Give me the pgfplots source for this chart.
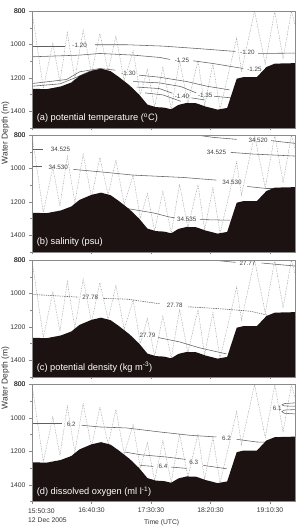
\documentclass[border=0pt]{standalone}
\usepackage{fontspec}
\setmainfont{Liberation Sans}
\usepackage{pgfplots}
\usepackage{pgfplotstable}
\pgfplotsset{compat=1.18}
\definecolor{bathyc}{HTML}{1C1212}
\definecolor{contc}{HTML}{606060}
\definecolor{zigc}{HTML}{999999}
\definecolor{framec}{HTML}{8A8A8A}

\pgfplotstableread{
x y
0 1510
0 1265
12 1268
24 1252
33 1228
40 1188
50 1158
58 1145
66 1160
73 1195
82 1245
90 1300
97 1360
104 1375
111 1378
117 1388
123 1362
130 1350
138 1352
146 1372
156 1390
164 1380
172 1205
178 1195
189 1195
197 1135
204 1115
221 1112
221 1510
}\bathytab

\pgfplotstableread{
x y
0 800
9.5 1262
17.5 994
23.5 1225
29.7 929
36 1205
43 915
50 1172
57 935
64 1158
70.5 950
77.5 1215
85 1040
91 1300
97 1150
103 1375
110 1137
117 1388
124 1096
131 1352
139.5 1096
145 1368
152 1116
158 1390
172 962
176 1160
187 800
196 1116
204 800
211 1085
218 800
221 880
}\zigtab

\tikzset{
 zigline/.style={zigc, line width=0.45bp, dash pattern=on 0.7bp off 0.9bp},
 cline/.style={contc, line width=0.55bp},
 lab/.style={font=\fontsize{6.3}{7}\selectfont, text=black!75, inner sep=0.5bp},
 plab/.style={font=\fontsize{9.3}{10}\selectfont, text=white, anchor=west, inner sep=0pt},
 topl/.style={font=\fontsize{6.8}{7}\selectfont, text=black!80, anchor=east, xshift=-3bp},
}
\pgfplotsset{
 panel/.style={
  width=263bp, height=117bp, scale only axis,
  anchor=north west,
  xmin=0, xmax=221, ymin=800, ymax=1500, y dir=reverse,
  xtick={0,50,100,150,200}, ytick={800,1000,1200,1400},
  minor ytick={900,1100,1300,1500},
  xticklabels={},
  tick align=outside, xtick pos=bottom, ytick pos=left,
  major tick length=2.5bp, minor tick length=1.5bp,
  every tick/.style={framec, line width=0.4bp},
  axis line style={framec, line width=0.5bp},
  tick label style={font=\fontsize{6.8}{7}\selectfont, text=black!80},
  yticklabel style={xshift=-0.5bp},
  /pgf/number format/assume math mode=true,
  /pgf/number format/1000 sep={},
  axis on top, clip mode=individual,
 },
}

\begin{document}
\begin{tikzpicture}
\path[use as bounding box] (0,0) rectangle (296bp,-526bp);

% ---------------- (a) potential temperature
\begin{axis}[panel, at={(32bp,-11bp)}]
\addplot[zigline] table {\zigtab};
% -1.20
\addplot[cline] coordinates {(0,1012) (28,1012)};
\addplot[cline] coordinates {(53,1002) (80,1002) (110,1010) (140,1025) (171,1042)};
\addplot[cline] coordinates {(190,1054) (221,1052)};
% -1.25
\addplot[cline] coordinates {(0,1074) (40,1064) (57,1054) (85,1064) (107.5,1078) (116,1090)};
\addplot[cline] coordinates {(135.5,1098) (152,1114) (169,1134) (177.5,1144)};
% -1.30
\addplot[cline] coordinates {(0,1234) (29,1210) (40,1164) (57,1144) (70,1154)};
\addplot[cline] coordinates {(90,1184) (107,1196) (130,1222) (147,1250) (166,1272)};
% lower left line
\addplot[cline] coordinates {(0,1250) (23.5,1236) (37.5,1196) (48.7,1160) (58,1150)};
% -1.35
\addplot[cline] coordinates {(85,1222) (107,1230) (125,1252) (138,1290)};
\addplot[cline] coordinates {(153,1310) (168,1320)};
% -1.40
\addplot[cline] coordinates {(88,1255) (107,1264) (118,1292)};
\addplot[cline] coordinates {(134,1320) (145,1332)};
\addplot[cline] coordinates {(95,1290) (110,1302) (125,1340)};
\addplot[fill=bathyc, draw=none] table {\bathytab} -- cycle;
\node[lab] at (axis cs:40,1005) {-1.20};
\node[lab] at (axis cs:181,1046) {-1.20};
\node[lab] at (axis cs:126,1094) {-1.25};
\node[lab] at (axis cs:187,1150) {-1.25};
\node[lab] at (axis cs:81,1170) {-1.30};
\node[lab] at (axis cs:145.5,1302) {-1.35};
\node[lab] at (axis cs:126,1312) {-1.40};
\node[plab] at (axis cs:3.9,1442) {(a) potential temperature (\textsuperscript{o}C)};
\node[topl] at (axis cs:0,800) {800};
\end{axis}

% ---------------- (b) salinity
\begin{axis}[panel, at={(32bp,-135bp)}]
\addplot[zigline] table {\zigtab};
% 34.525 left
\addplot[cline] coordinates {(0,885) (9.5,885)};
% 34.530
\addplot[cline] coordinates {(0,986) (8,986)};
\addplot[cline] coordinates {(34.7,1006) (57,1020) (85,1040) (127,1054) (155,1070)};
\addplot[cline] coordinates {(181,1108) (197,1120) (221,1120)};
% 34.525 right
\addplot[cline] coordinates {(167,904) (186,914) (221,926)};
% 34.520
\addplot[cline] coordinates {(135,797) (152,814) (172,826)};
\addplot[cline] coordinates {(201,834) (221,850)};
% 34.535
\addplot[cline] coordinates {(80,1240) (102,1266) (115,1290) (120,1296)};
\addplot[cline] coordinates {(141,1306) (166,1310)};
\addplot[fill=bathyc, draw=none] table {\bathytab} -- cycle;
\node[lab] at (axis cs:24,885) {34.525};
\node[lab] at (axis cs:22,994) {34.530};
\node[lab] at (axis cs:168,1086) {34.530};
\node[lab] at (axis cs:155,904) {34.525};
\node[lab] at (axis cs:190,829) {34.520};
\node[lab] at (axis cs:130,1306) {34.535};
\node[plab] at (axis cs:3.9,1442) {(b) salinity (psu)};
\node[topl] at (axis cs:0,800) {800};
\end{axis}

% ---------------- (c) potential density
\begin{axis}[panel, at={(32bp,-260bp)}]
\addplot[zigline] table {\zigtab};
% 27.78 dashed
\addplot[contc, line width=0.55bp, dash pattern=on 1.4bp off 0.9bp] coordinates {(0,1006) (39,1022)};
\addplot[contc, line width=0.55bp, dash pattern=on 1.4bp off 0.9bp] coordinates {(60,1030) (79.5,1034) (107.5,1062)};
\addplot[contc, line width=0.55bp, dash pattern=on 1.4bp off 0.9bp] coordinates {(131,1080) (155,1090) (183,1106) (198,1130)};
% 27.77
\addplot[cline] coordinates {(145,796) (171,814)};
\addplot[cline] coordinates {(193,818) (221,836)};
% 27.79
\addplot[cline] coordinates {(106,1264) (124,1290) (141,1326) (163.5,1362)};
\addplot[fill=bathyc, draw=none] table {\bathytab} -- cycle;
\node[lab] at (axis cs:49,1025) {27.78};
\node[lab] at (axis cs:120,1070) {27.78};
\node[lab] at (axis cs:181,818) {27.77};
\node[lab] at (axis cs:97,1248) {27.79};
\node[plab] at (axis cs:3.9,1442) {(c) potential density (kg m\textsuperscript{-3})};
\node[topl] at (axis cs:0,800) {800};
\end{axis}

% ---------------- (d) dissolved oxygen
\begin{axis}[panel, at={(32bp,-384.5bp)},
  xticklabels={,16:40:30,17:30:30,18:20:30,19:10:30}]
\addplot[zigline] table {\zigtab};
% 6.2
\addplot[cline] coordinates {(0,1034) (25,1034)};
\addplot[cline] coordinates {(41.7,1044) (57,1054) (79.5,1060) (107.5,1084) (133,1104) (155,1114)};
\addplot[cline] coordinates {(172,1128) (189,1144) (198,1146)};
% 6.3
\addplot[cline] coordinates {(78,1204) (91,1220) (113,1234) (129,1248)};
\addplot[cline] coordinates {(144,1284) (163.5,1304)};
% 6.4
\addplot[cline] coordinates {(91,1284) (102,1290)};
\addplot[cline] coordinates {(117,1294) (130,1302)};
% 6.1
\addplot[cline] coordinates {(221,910) (212,914) (210,922) (212,928) (221,930)};
\addplot[cline] coordinates {(221,950) (212,953) (210,962) (212,972) (221,976)};
\addplot[fill=bathyc, draw=none] table {\bathytab} -- cycle;
\node[lab] at (axis cs:33,1036) {6.2};
\node[lab] at (axis cs:163.5,1120) {6.2};
\node[lab] at (axis cs:136,1264) {6.3};
\node[lab] at (axis cs:110,1290) {6.4};
\node[lab] at (axis cs:206,944) {6.1};
\node[plab] at (axis cs:3.9,1442) {(d) dissolved oxygen (ml l\textsuperscript{-1})};
\node[topl] at (axis cs:0,800) {800};
\end{axis}

% axis titles
\node[rotate=90, font=\fontsize{8.5}{9}\selectfont, text=black!80] at (5.5bp,-133bp) {Water Depth (m)};
\node[rotate=90, font=\fontsize{8.5}{9}\selectfont, text=black!80] at (5.5bp,-378bp) {Water Depth (m)};
\node[anchor=west, font=\fontsize{6.8}{7}\selectfont, text=black!80, inner sep=0pt] at (28bp,-511.5bp) {15:50:30};
\node[anchor=west, font=\fontsize{6.8}{7}\selectfont, text=black!80, inner sep=0pt] at (28bp,-520.5bp) {12 Dec 2005};
\node[font=\fontsize{6.8}{7}\selectfont, text=black!80, inner sep=0pt] at (161.7bp,-522.5bp) {Time (UTC)};
\end{tikzpicture}
\end{document}
